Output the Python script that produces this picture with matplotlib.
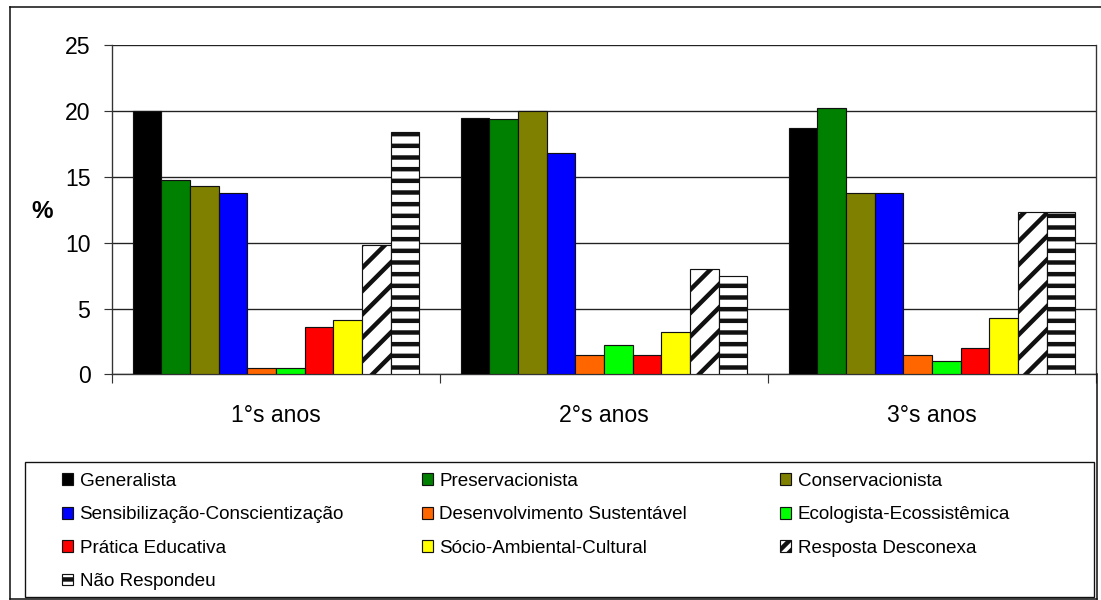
import numpy as np
import matplotlib.pyplot as plt
from matplotlib.lines import Line2D
from matplotlib.patches import Rectangle, Patch

plt.rcParams['font.family'] = ['Liberation Sans', 'DejaVu Sans']
plt.rcParams['hatch.linewidth'] = 2.3

# ----------------------------
# Data (% per school year)
# ----------------------------
groups = ['1°s anos', '2°s anos', '3°s anos']

generalista = [20.0, 19.5, 18.7]
preservacionista = [14.8, 19.4, 20.2]
conservacionista = [14.3, 20.0, 13.8]
sensibilizacao = [13.8, 16.8, 13.8]
desenvolvimento = [0.5, 1.5, 1.5]
ecologista = [0.5, 2.2, 1.0]
pratica = [3.6, 1.5, 2.0]
socio = [4.1, 3.2, 4.3]
desconexa = [9.8, 8.0, 12.3]
nao_respondeu = [18.4, 7.5, 12.3]

labels = ['Generalista', 'Preservacionista', 'Conservacionista',
          'Sensibilização-Conscientização', 'Desenvolvimento Sustentável',
          'Ecologista-Ecossistêmica', 'Prática Educativa',
          'Sócio-Ambiental-Cultural', 'Resposta Desconexa', 'Não Respondeu']
series = [generalista, preservacionista, conservacionista, sensibilizacao,
          desenvolvimento, ecologista, pratica, socio, desconexa, nao_respondeu]
colors = ['#000000', '#008000', '#808000', '#0000FF', '#FF6600',
          '#00FF00', '#FF0000', '#FFFF00', '#FFFFFF', '#FFFFFF']
hatches = [None] * 8 + ['//', '--']

# ----------------------------
# Figure and axis setup
# ----------------------------
DPI = 140
fig = plt.figure(figsize=(1101 / DPI, 600 / DPI), dpi=DPI)
ax = fig.add_axes([112 / 1101, 1 - 374.3 / 600, (1096 - 112) / 1101, (374.3 - 45.3) / 600])

x = np.arange(len(groups))
width = 0.0874
bars = []
for i, (vals, col, hat) in enumerate(zip(series, colors, hatches)):
    b = ax.bar(x + (i - 4.5) * width, vals, width, color=col, edgecolor='#111111',
               linewidth=0.6, hatch=hat, zorder=3)
    bars.append(b)

ax.set_xlim(-0.5, 2.5)
ax.set_ylim(0, 25)
ax.set_yticks(np.arange(0, 26, 5))
ax.yaxis.grid(True, color='#222222', linewidth=0.7, zorder=0)
ax.set_axisbelow(True)

ax.set_xticks(x)
ax.set_xticklabels(groups, fontsize=11.8)
ax.set_xticks([-0.5, 0.5, 1.5, 2.5], minor=True)
ax.tick_params(axis='x', which='major', length=0, pad=15.5)
ax.tick_params(axis='x', which='minor', length=4.6, width=0.6, color='#333333', direction='out')
ax.tick_params(axis='y', length=4.1, width=0.6, color='#333333', direction='out',
               labelsize=11.8, pad=7)

ax.spines['top'].set_visible(False)
for s in ['left', 'bottom', 'right']:
    ax.spines[s].set_color('#333333')
    ax.spines[s].set_linewidth(0.7)

fig.text(42 / 1101, 1 - 211 / 600, '%', fontsize=12.5, fontweight='bold',
         ha='center', va='center')

# ----------------------------
# Legend: three columns filled row by row
# ----------------------------
# small swatches need a denser hatch to show the pattern
handles = [b.patches[0] for b in bars[:8]]
handles += [Patch(facecolor='white', edgecolor='#111111', linewidth=0.6, hatch='////'),
            Patch(facecolor='white', edgecolor='#111111', linewidth=0.6, hatch='---')]

columns = [[0, 3, 6, 9], [1, 4, 7], [2, 5, 8]]
col_x = [62, 421.7, 780]
for cx, idx in zip(col_x, columns):
    fig.legend([handles[k] for k in idx], [labels[k] for k in idx],
               loc='upper left', bbox_to_anchor=(cx / 1101, 1 - 473 / 600),
               bbox_transform=fig.transFigure, frameon=False, borderpad=0,
               borderaxespad=0, fontsize=9.7, handlelength=0.58, handleheight=0.58,
               handletextpad=0.35, labelspacing=0.87)

fig.add_artist(Rectangle((25 / 1101, 3 / 600), (1094 - 25) / 1101, (597 - 462) / 600,
                         transform=fig.transFigure, fill=False, edgecolor='#111111',
                         linewidth=0.7))

# Outer chart frame
def frame_line(xs, ys):
    fig.add_artist(Line2D([v / 1101 for v in xs], [1 - v / 600 for v in ys],
                          transform=fig.transFigure, color='#111111', linewidth=0.8))

frame_line([10, 10], [7, 598.5])
frame_line([10, 1101], [7, 7])
frame_line([10, 1096.5], [598.5, 598.5])
frame_line([1096.5, 1096.5], [374, 598.5])

fig.savefig('out.png', dpi=DPI)
